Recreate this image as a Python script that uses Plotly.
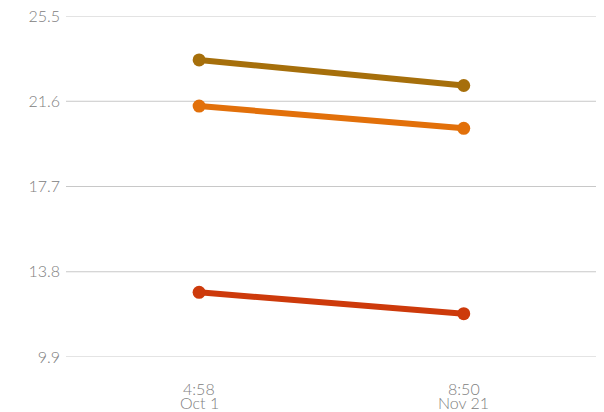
import plotly.graph_objects as go

x_cats = ["Oct 1 4:58", "Nov 21 8:50"]
x_times = ["4:58", "8:50"]
x_dates = ["Oct 1", "Nov 21"]
series_a = [23.49, 22.32]   # brown
series_b = [21.38, 20.36]   # orange
series_c = [12.86, 11.88]   # red
y_ticks = [9.9, 13.8, 17.7, 21.6, 25.5]

colors = ["#a66f0b", "#e2700a", "#cd3a0b"]

fig = go.Figure()
for vals, c in zip([series_a, series_b, series_c], colors):
    fig.add_trace(go.Scatter(
        x=x_cats, y=vals, mode="lines+markers",
        line=dict(color=c, width=6),
        marker=dict(color=c, size=13),
        showlegend=False, hoverinfo="skip", cliponaxis=False,
    ))

tf = dict(family="Lato Light, Lato", size=16, color="#808080", weight=300)

# page body has an 8px margin; figure sized to fill the remaining window
fig.update_layout(
    width=596, height=404,
    margin=dict(l=58, r=0, t=8, b=55),
    plot_bgcolor="white", paper_bgcolor="white",
    font=dict(family="Lato Light, Lato", size=16, color="#808080"),
)
fig.update_xaxes(
    type="category", range=[-0.503, 1.53],
    showgrid=False, zeroline=False, showline=False, ticks="",
    showticklabels=False, automargin=False,
)
fig.update_yaxes(
    range=[9.9, 25.5], tickvals=y_ticks,
    ticktext=[f"{v:.1f}" for v in y_ticks],
    showgrid=False, zeroline=False, showline=False, ticks="",
    automargin=False, ticklabelstandoff=5, ticklabeloverflow="allow",
    tickfont=tf,
)
for v in y_ticks:
    fig.add_shape(type="line", xref="paper", x0=0, x1=1, yref="y", y0=v, y1=v,
                  line=dict(color="#c8c8c8", width=1), layer="below")

for cat, t, d in zip(x_cats, x_times, x_dates):
    fig.add_annotation(x=cat, xref="x", y=0, yref="paper", text=t,
                       showarrow=False, yanchor="middle", yshift=-31, font=tf)
    fig.add_annotation(x=cat, xref="x", y=0, yref="paper", text=d,
                       showarrow=False, yanchor="middle", yshift=-45, font=tf)

fig.write_html("out.html")
